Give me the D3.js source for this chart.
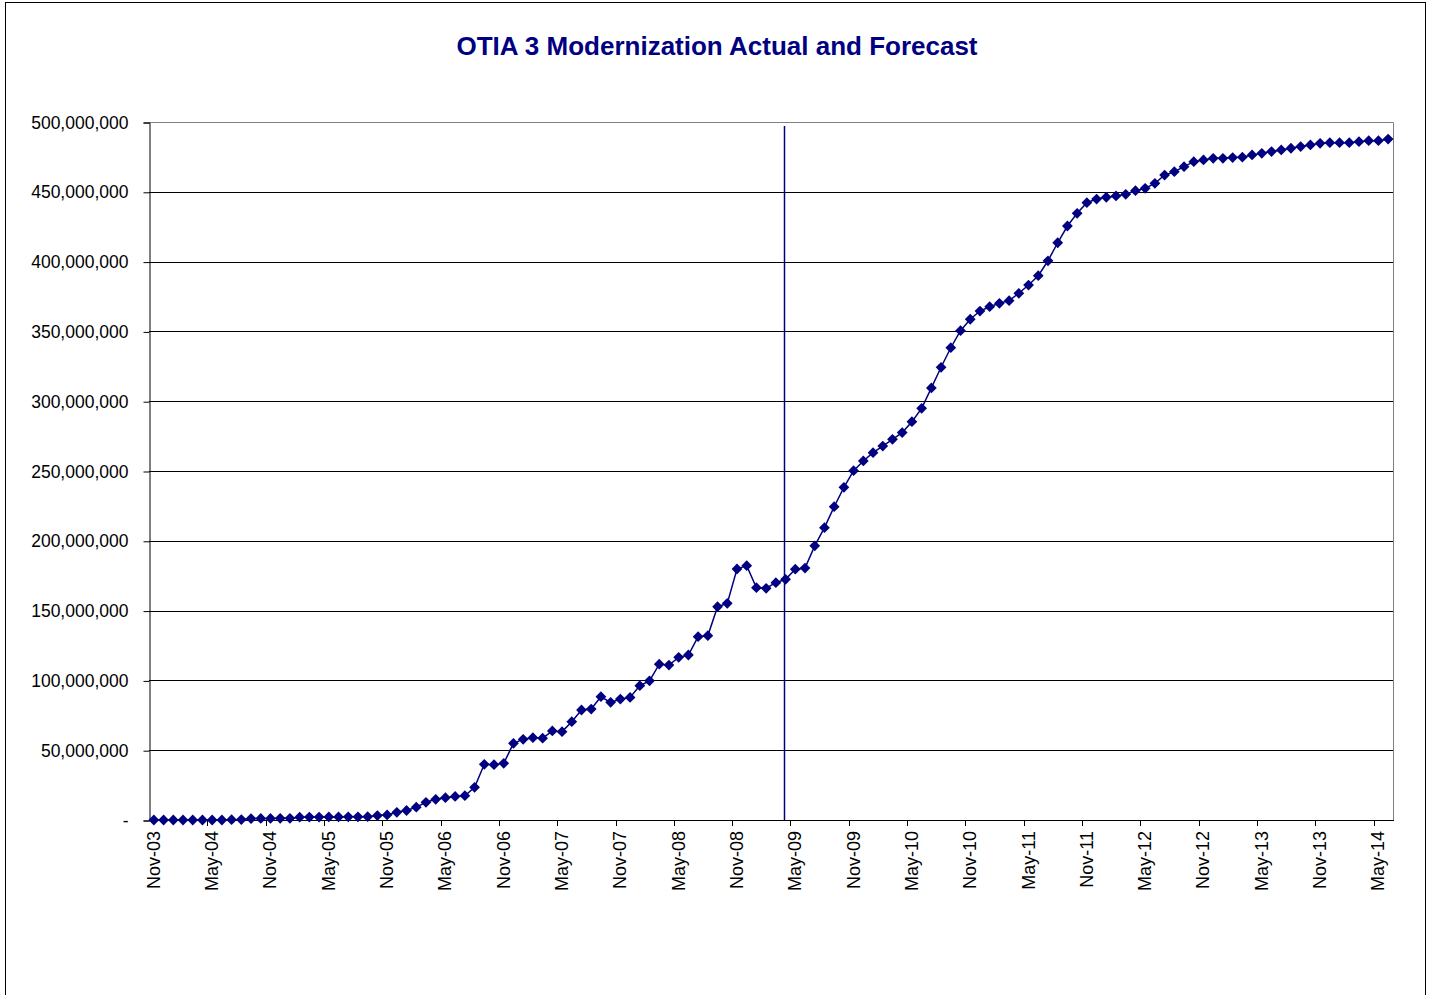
<!DOCTYPE html>
<html>
<head>
<meta charset="utf-8">
<script src="https://cdn.jsdelivr.net/npm/d3@7"></script>
<style>
  body { margin: 0; background: #fff; }
  text { font-family: Arial, "Liberation Sans", sans-serif; }
</style>
</head>
<body>
<div id="chart"></div>
<script>
width = 1432
height = 995

// monthly categories, Nov-03 .. Jun-14
let months = d3.timeMonth.range(new Date(2003, 10, 1), new Date(2014, 6, 1))

// cumulative amount in millions
let valuesM = [
  0, 0, 0, 0, 0, 0, 0, 0, 0.2, 0.3, 1.0, 1.1,
  1.1, 1.2, 1.2, 2.0, 2.1, 2.1, 2.2, 2.2, 2.3, 2.3, 2.4, 3.2,
  3.6, 5.5, 6.8, 9.2, 12.7, 14.8, 16.0, 16.9, 17.4, 23.4, 39.9, 39.6,
  40.6, 54.9, 57.8, 59.0, 58.6, 63.8, 63.3, 70.4, 78.8, 79.5, 88.3, 84.3,
  86.6, 87.8, 96.2, 99.7, 111.6, 111.0, 116.5, 118.2, 131.3, 132.0, 152.8, 155.2,
  179.8, 182.2, 166.4, 166.0, 170.0, 172.4, 179.7, 180.5, 196.4, 209.4, 224.4, 238.3,
  250.2, 257.2, 263.1, 267.9, 272.7, 277.5, 285.3, 294.9, 309.5, 324.3, 338.3, 350.5,
  358.7, 364.6, 367.7, 370.1, 372.0, 377.3, 383.2, 389.9, 400.6, 413.5, 425.5, 434.6,
  442.2, 444.8, 446.1, 447.0, 448.2, 450.8, 452.5, 456.1, 462.0, 464.4, 468.0, 471.6,
  472.8, 474.0, 474.0, 474.5, 474.8, 476.4, 477.6, 478.8, 480.0, 481.2, 482.4, 483.6,
  484.7, 485.2, 485.2, 485.2, 485.9, 486.6, 486.6, 487.8
]

let yTicks = [0, 50e6, 100e6, 150e6, 200e6, 250e6, 300e6, 350e6, 400e6, 450e6, 500e6]
let labelEvery = 6
// actual / forecast divider sits just before the Apr-09 point
let forecastAt = 64.84

let title = "OTIA 3 Modernization Actual and Forecast"
let navy = "#000080"

let data = months.map((m, i) => ({ i: i, month: m, value: valuesM[i] * 1e6 }))

let margin = { left: 149, right: 1393, top: 122, bottom: 820 }

let svg = d3.select("#chart")
.append("svg")
.attr("width", width)
.attr("height", height)

svg.append("rect")
.attr("width", width)
.attr("height", height)
.attr("fill", "#fff")

// chart border
svg.append("rect")
.attr("x", 5.5)
.attr("y", 2.5)
.attr("width", 1420)
.attr("height", 1010)
.attr("fill", "none")
.attr("stroke", "#000")

svg.append("text")
.attr("x", 717)
.attr("y", 55)
.attr("text-anchor", "middle")
.attr("font-size", 26)
.attr("font-weight", "bold")
.attr("fill", navy)
.text(title)

let x = d3.scaleLinear()
.domain([-0.5, data.length - 0.5])
.range([margin.left, margin.right])

let y = d3.scaleLinear()
.domain([0, 500e6])
.range([margin.bottom, margin.top])

// gridlines
svg.append("g")
.selectAll("line")
.data(yTicks.filter(t => t > 0 && t < 500e6))
.join("line")
.attr("x1", margin.left)
.attr("x2", margin.right)
.attr("y1", d => Math.round(y(d)) + 0.5)
.attr("y2", d => Math.round(y(d)) + 0.5)
.attr("stroke", "#000")

// plot border top/right in grey
svg.append("path")
.attr("d", `M${margin.left},${Math.round(y(500e6)) + 0.5}H${margin.right + 0.5}V${margin.bottom}`)
.attr("fill", "none")
.attr("stroke", "#808080")

// y axis
let fmt = d3.format(",")
let yAxis = d3.axisLeft(y)
.tickValues(yTicks)
.tickSize(6)
.tickPadding(15)
.tickFormat(d => d == 0 ? "-" : fmt(d))

let yg = svg.append("g")
.attr("transform", `translate(${margin.left + 0.5},0.5)`)
.call(yAxis)
yg.select(".domain").attr("stroke", "#000")
yg.selectAll("text")
.attr("font-size", 17.5)
.attr("fill", "#000")
.attr("font-family", "Arial, 'Liberation Sans', sans-serif")

// x axis line
svg.append("line")
.attr("x1", margin.left)
.attr("x2", margin.right + 1)
.attr("y1", margin.bottom + 0.5)
.attr("y2", margin.bottom + 0.5)
.attr("stroke", "#000")

let labelIdx = data.filter(d => d.i % labelEvery == 0)

svg.append("g")
.selectAll("line")
.data(labelIdx.filter(d => d.i > 0))
.join("line")
.attr("x1", d => Math.round(x(d.i - 0.5)) + 0.5)
.attr("x2", d => Math.round(x(d.i - 0.5)) + 0.5)
.attr("y1", margin.bottom)
.attr("y2", margin.bottom + 6)
.attr("stroke", "#000")

let monthFmt = d3.timeFormat("%b-%y")
svg.append("g")
.selectAll("text")
.data(labelIdx)
.join("text")
.attr("transform", d => `translate(${x(d.i) + 6},${margin.bottom + 11}) rotate(-90)`)
.attr("text-anchor", "end")
.attr("font-size", 18)
.attr("fill", "#000")
.text(d => monthFmt(d.month))

// forecast divider
svg.append("line")
.attr("x1", Math.round(x(forecastAt)) + 0.5)
.attr("x2", Math.round(x(forecastAt)) + 0.5)
.attr("y1", 126)
.attr("y2", margin.bottom)
.attr("stroke", navy)
.attr("stroke-width", 1.5)

// series
let line = d3.line()
.x(d => x(d.i))
.y(d => y(d.value))

svg.append("path")
.datum(data)
.attr("d", line)
.attr("fill", "none")
.attr("stroke", navy)
.attr("stroke-width", 1.5)

let diamond = d3.symbol().type(d3.symbolSquare).size(58)
svg.append("g")
.selectAll("path")
.data(data)
.join("path")
.attr("transform", d => `translate(${x(d.i)},${y(d.value)}) rotate(45)`)
.attr("d", diamond)
.attr("fill", navy)
</script>
</body>
</html>
